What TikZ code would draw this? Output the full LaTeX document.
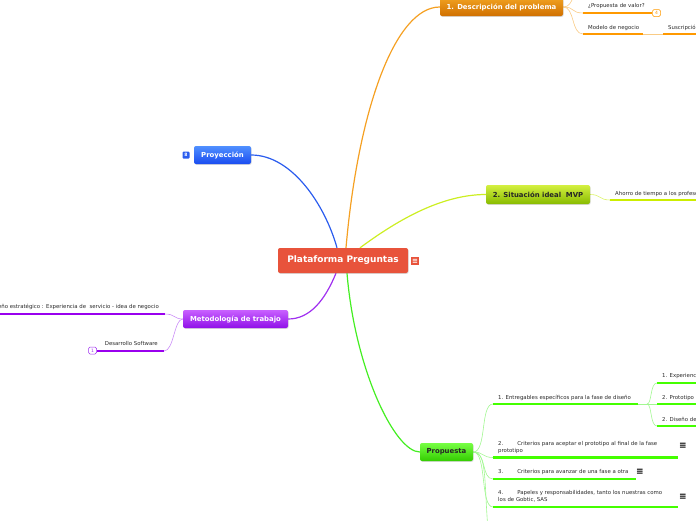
\documentclass[tikz,border=0pt]{standalone}
\usepackage{fontspec}
\setmainfont{DejaVu Sans}
\usetikzlibrary{shadows,backgrounds}
\definecolor{cred}{HTML}{E8533B}
\definecolor{otop}{HTML}{F0A020}
\definecolor{obot}{HTML}{D07000}
\definecolor{oline}{HTML}{F5A022}
\definecolor{ounder}{HTML}{FF9900}
\definecolor{btop}{HTML}{5090FF}
\definecolor{bbot}{HTML}{1A4CF0}
\definecolor{bline}{HTML}{2A5CEE}
\definecolor{ytop}{HTML}{D4F040}
\definecolor{ybot}{HTML}{88BB00}
\definecolor{yline}{HTML}{CCEE22}
\definecolor{yunder}{HTML}{CCEE00}
\definecolor{ptop}{HTML}{C860FF}
\definecolor{pbot}{HTML}{9010E8}
\definecolor{pline}{HTML}{A030F0}
\definecolor{punder}{HTML}{9900EE}
\definecolor{gtop}{HTML}{77FF44}
\definecolor{gbot}{HTML}{33CC00}
\definecolor{gline}{HTML}{44EE22}
\definecolor{gunder}{HTML}{44FF00}
\definecolor{txtgray}{HTML}{2A2A2A}
\begin{document}
\begin{tikzpicture}[x=1pt,y=-1pt,
  topic/.style={rounded corners=2pt, inner sep=0pt, minimum height=18pt,
    font=\bfseries\fontsize{6.9}{8}\selectfont,
    drop shadow={shadow xshift=0.6pt,shadow yshift=-0.8pt,opacity=0.3}},
  lbl/.style={inner sep=0pt, anchor=west, font=\fontsize{5.4}{7}\selectfont, text=txtgray, align=left},
  lble/.style={lbl, anchor=east, align=right},
  mainline/.style={line width=1.2pt},
  sub/.style={line width=0.6pt},
  under/.style={line width=2.6pt},
  badge/.style={draw, fill=white, rounded corners=1.5pt, minimum width=8pt, minimum height=7pt, inner sep=0pt, line width=0.5pt, font=\fontsize{4.5}{4.5}\selectfont},
  menuicon/.style={inner sep=0pt, font=\bfseries\fontsize{9}{9}\selectfont, text=black}
]
\useasboundingbox (0,0) rectangle (696,520);

% central topic
\node[rounded corners=2pt, fill=cred, text=white, minimum width=130pt, minimum height=25pt, inner sep=0pt,
  font=\bfseries\fontsize{9}{10.5}\selectfont,
  drop shadow={shadow xshift=0.6pt,shadow yshift=-0.8pt,opacity=0.3}] (root) at (343,260.5) {Plataforma Preguntas};
\node[fill=cred, minimum size=8pt, inner sep=0pt, text=white, font=\bfseries\fontsize{7}{7}\selectfont] (rooticon) at (415,261) {≡};

% main topics
\node[topic, top color=otop, bottom color=obot, text=white, minimum width=123pt] (desc) at (501.5,7) {1. Descripción del problema};
\node[topic, top color=btop, bottom color=bbot, text=white, minimum width=57pt] (proj) at (222.5,155) {Proyección};
\node[fill=bline, rounded corners=1pt, minimum size=7pt, inner sep=0pt, text=white, font=\bfseries\fontsize{4.5}{4.5}\selectfont] (projb) at (186,155) {8};
\node[topic, top color=ytop, bottom color=ybot, text=black!85, minimum width=104pt, minimum height=19pt] (sit) at (538,194.5) {2. Situación ideal\ \ MVP};
\node[topic, top color=ptop, bottom color=pbot, text=white, minimum width=105pt] (met) at (235.5,319) {Metodología de trabajo};
\node[topic, top color=gtop, bottom color=gbot, text=black!85, minimum width=53pt] (prop) at (446.5,452) {Propuesta};

% ---- Descripción children
\coordinate (pv0) at (583,13); \coordinate (pv1) at (652,13);
\node[lbl] (pvt) at (588,6) {¿Propuesta de valor?};
\node[badge, draw=ounder, text=ounder] (pvb) at (656.5,13) {4};
\coordinate (mn0) at (583,34); \coordinate (mn1) at (643,34);
\node[lbl] (mnt) at (588,28) {Modelo de negocio};
\coordinate (su0) at (663,34); \coordinate (su1) at (700,34);
\node[lbl] (sut) at (668,28) {Suscripción};
\coordinate (dup) at (583,-12);

% ---- Situación children
\coordinate (ah0) at (610,200); \coordinate (ah1) at (700,200);
\node[lbl] (aht) at (615,194) {Ahorro de tiempo a los profesores};

% ---- Metodología children
\coordinate (de0) at (165,314); \coordinate (de1) at (-5,314);
\node[lble] (det) at (159,307) {Diseño estratégico : Experiencia de\ \ servicio - idea de negocio};
\coordinate (ds0) at (164,351); \coordinate (ds1) at (97,351);
\node[lble] (dst) at (158,343) {Desarrollo Software};
\node[badge, draw=pline, text=pline] (dsb) at (92.5,350.5) {1};

% ---- Propuesta children
\coordinate (e10) at (493,404); \coordinate (e11) at (638,404); \coordinate (e12) at (647,404);
\node[lbl] (e1t) at (498,398) {1. Entregables específicos para la fase de diseño};
\coordinate (e20) at (493,457.5); \coordinate (e21) at (678,457.5);
\node[lbl] (e2t) at (498,447.5) {2.\hspace{14pt}Criterios para aceptar el prototipo al final de la fase\\prototipo};
\node[menuicon] (e2i) at (683,446) {≡};
\coordinate (e30) at (493,479); \coordinate (e31) at (636,479);
\node[lbl] (e3t) at (498,472) {3.\hspace{14pt}Criterios para avanzar de una fase a otra};
\node[menuicon] (e3i) at (640,472) {≡};
\coordinate (e40) at (493,507); \coordinate (e41) at (678,507);
\node[lbl] (e4t) at (498,496.5) {4.\hspace{14pt}Papeles y responsabilidades, tanto los nuestras como\\los de Gobtic, SAS};
\node[menuicon] (e4i) at (683,497) {≡};
\coordinate (e5) at (488,530);

\coordinate (x10) at (657,383); \coordinate (x11) at (700,383);
\node[lbl] (x1t) at (662,376) {1. Experiencia};
\coordinate (x20) at (657,404); \coordinate (x21) at (700,404);
\node[lbl] (x2t) at (662,398) {2. Prototipo};
\coordinate (x30) at (657,426); \coordinate (x31) at (700,426);
\node[lbl] (x3t) at (662,419) {2. Diseño de};

\begin{pgfonlayer}{background}
% main connectors
\draw[mainline, oline] ([xshift=3pt]root.north) .. controls (358,110) and (395,7) .. (desc.west);
\draw[mainline, bline] ([xshift=-6pt]root.north) .. controls (325,205) and (292,155) .. (proj.east);
\draw[mainline, yline] ([xshift=17pt]root.north) .. controls (395,222) and (440,194.5) .. (sit.west);
\draw[mainline, pline] ([xshift=-7pt]root.south) .. controls (325,300) and (310,319) .. (met.east);
\draw[mainline, gline] ([xshift=4pt]root.south) .. controls (355,370) and (395,452) .. (prop.west);

% Descripción
\draw[sub, oline!55] (desc.east) .. controls (575,7) and (571,13) .. (pv0);
\draw[sub, oline!55] (desc.east) .. controls (575,7) and (571,34) .. (mn0);
\draw[sub, oline!55] (desc.east) .. controls (575,7) and (571,-12) .. (dup);
\draw[under, ounder] (pv0) -- (pv1);
\draw[under, ounder] (mn0) -- (mn1);
\draw[sub, oline!55] (mn1) -- (su0);
\draw[under, ounder] (su0) -- (su1);

% Situación
\draw[sub, yline!70] (sit.east) .. controls (601,194.5) and (599,200) .. (ah0);
\draw[under, yunder] (ah0) -- (ah1);

% Metodología
\draw[sub, pline!55] (met.west) .. controls (174,319) and (175,314) .. (de0);
\draw[sub, pline!55] (met.west) .. controls (174,319) and (174,351) .. (ds0);
\draw[under, punder] (de0) -- (de1);
\draw[under, punder] (ds0) -- (ds1);

% Propuesta
\draw[sub, gline!50] (prop.east) .. controls (487,452) and (480,404) .. (e10);
\draw[sub, gline!50] (prop.east) .. controls (484,452) and (482,457.5) .. (e20);
\draw[sub, gline!50] (prop.east) .. controls (487,452) and (481,479) .. (e30);
\draw[sub, gline!50] (prop.east) .. controls (487,452) and (480,507) .. (e40);
\draw[sub, gline!50] (prop.east) .. controls (487,452) and (484,480) .. (e5);
\draw[under, gunder] (e10) -- (e11);
\draw[under, gunder] (e20) -- (e21);
\draw[under, gunder] (e30) -- (e31);
\draw[under, gunder] (e40) -- (e41);
\draw[sub, gline!50] (e11) -- (e12);
\draw[sub, gline!50] (e12) .. controls (652,404) and (650,383) .. (x10);
\draw[sub, gline!50] (e12) -- (x20);
\draw[sub, gline!50] (e12) .. controls (652,404) and (650,426) .. (x30);
\draw[under, gunder] (x10) -- (x11);
\draw[under, gunder] (x20) -- (x21);
\draw[under, gunder] (x30) -- (x31);
\end{pgfonlayer}
\end{tikzpicture}
\end{document}
